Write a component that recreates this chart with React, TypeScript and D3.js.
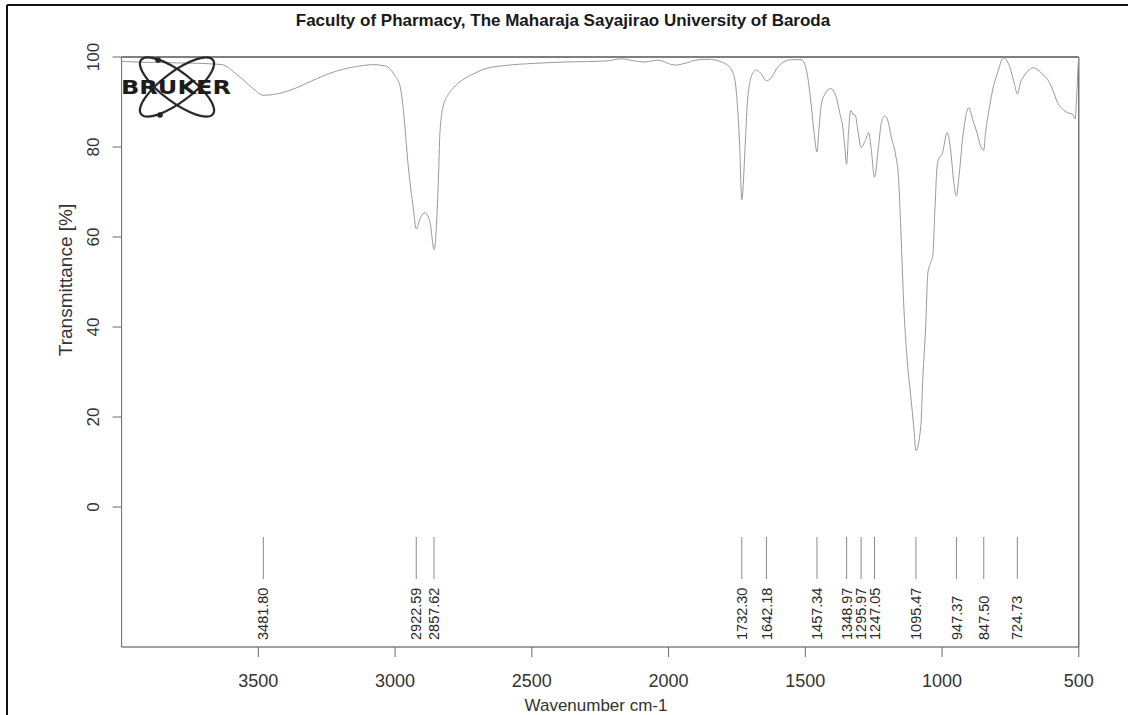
import React from "react";
import * as d3 from "d3";

// IR spectrum: wavenumber (cm-1) vs transmittance (%)
const wavenumbers: number[] = [
  4000, 3900, 3800, 3720, 3680, 3633, 3578, 3523, 3481.8, 3432, 3359, 3286, 3213, 3140, 3078,
  3035, 3000, 2982, 2970, 2952, 2933, 2922.6, 2909, 2891, 2872, 2857.6, 2842, 2836, 2824, 2805,
  2781, 2744, 2708, 2671, 2598, 2488, 2368, 2232, 2170, 2133, 2086, 2039, 1977, 1940, 1900,
  1856, 1807, 1776, 1758, 1749, 1740, 1732.3, 1720, 1712, 1703, 1691, 1679, 1661, 1642.2, 1624,
  1606, 1582, 1551, 1515, 1502, 1490, 1478, 1468, 1457.3, 1451, 1442, 1429, 1407, 1393, 1374,
  1362, 1356, 1349, 1342, 1334, 1326, 1317, 1307, 1296, 1281, 1268, 1259, 1247, 1232, 1222,
  1210, 1198, 1185, 1169, 1159, 1151, 1139, 1127, 1115, 1103, 1095.5, 1078, 1070, 1060, 1052,
  1042, 1034, 1026, 1018, 1010, 1000, 981, 969, 957, 947.4, 938, 924, 902, 888, 872,
  859, 847.5, 841, 828, 816, 797, 781, 776, 751, 735, 724.7, 712, 700, 685, 667,
  650, 632, 614, 596, 578, 559, 541, 523, 514, 508, 502, 500,
];

const transmittance: number[] = [
  99.0, 98.8, 98.7, 98.6, 98.5, 98.3, 96.1, 93.2, 91.5, 91.8, 93.2, 95.2, 96.9, 97.9, 98.3,
  98.0, 95.8, 93.6, 88.4, 75.8, 66.2, 61.8, 64.0, 65.4, 63.2, 57.2, 72.0, 83.2, 89.1, 91.7,
  93.5, 95.3, 96.4, 97.4, 98.1, 98.6, 98.9, 99.1, 99.6, 99.2, 98.9, 99.3, 98.2, 98.6, 99.3,
  99.5, 98.9, 97.7, 95.1, 89.9, 80.3, 68.3, 80.2, 89.8, 94.3, 96.5, 97.1, 96.2, 94.7, 95.4,
  97.3, 98.8, 99.4, 99.4, 98.4, 95.1, 89.1, 83.2, 78.9, 83.2, 89.2, 91.7, 93.0, 92.1, 87.6,
  83.9, 80.2, 76.2, 83.2, 88.1, 87.3, 87.0, 83.3, 79.9, 81.4, 83.2, 79.5, 73.3, 80.3, 85.4,
  86.9, 85.8, 82.0, 78.0, 73.0, 62.0, 43.5, 32.3, 25.0, 17.5, 12.5, 17.8, 29.0, 40.0, 52.0,
  54.3, 55.8, 66.2, 75.8, 77.7, 78.4, 83.2, 79.5, 72.1, 69.1, 73.5, 82.4, 88.7, 86.1, 83.1,
  80.2, 79.3, 83.2, 88.3, 92.4, 96.5, 99.4, 99.8, 97.6, 93.9, 91.8, 94.6, 95.8, 96.9, 97.6,
  97.2, 96.1, 95.0, 92.8, 89.9, 88.4, 87.6, 87.3, 86.2, 91.0, 98.5, 100.0,
];

// Picked peak positions (cm-1)
const peakPositions: number[] = [
  3481.8, 2922.59, 2857.62, 1732.3, 1642.18, 1457.34, 1348.97, 1295.97, 1247.05, 1095.47,
  947.37, 847.5, 724.73,
];

const xTicks: number[] = [3500, 3000, 2500, 2000, 1500, 1000, 500];
const yTicks: number[] = [0, 20, 40, 60, 80, 100];

const titleText = "Faculty of Pharmacy, The Maharaja Sayajirao University of Baroda";
const xLabel = "Wavenumber cm-1";
const yLabel = "Transmittance [%]";

const FONT = "'Liberation Sans', Arial, Helvetica, sans-serif";

function BrukerLogo({ cx, cy }: { cx: number; cy: number }) {
  const rx = 45;
  const ry = 15;
  return (
    <g>
      <ellipse cx={cx} cy={cy} rx={rx} ry={ry} fill="none" stroke="#2a2a2a" strokeWidth={2.2}
        transform={`rotate(37 ${cx} ${cy})`} />
      <ellipse cx={cx} cy={cy} rx={rx} ry={ry} fill="none" stroke="#2a2a2a" strokeWidth={2.2}
        transform={`rotate(-37 ${cx} ${cy})`} />
      <circle cx={cx - 19} cy={cy - 27} r={2.8} fill="#222" />
      <circle cx={cx - 17} cy={cy + 28} r={2.8} fill="#222" />
      <text x={cx - 56} y={cy + 7} fontFamily="'DejaVu Sans', sans-serif" fontWeight={900}
        fontSize={19} fill="#1c1c1c" textLength={110} lengthAdjust="spacingAndGlyphs">
        BRUKER
      </text>
    </g>
  );
}

export default function App() {
  const W = 1128;
  const H = 715;
  const left = 121.6;
  const right = 1078.8;
  const top = 57;
  const bottom = 647;

  const x = d3.scaleLinear().domain([4000, 500]).range([left, right]);
  const y = d3.scaleLinear().domain([-31.1, 100]).range([bottom, top]);

  const points: [number, number][] = wavenumbers.map((w, i) => [w, transmittance[i]]);
  const line = d3
    .line<[number, number]>()
    .x((d) => x(d[0]))
    .y((d) => y(d[1]))
    .curve(d3.curveMonotoneX);

  const axisColor = "#6a6a6a";

  return (
    <svg width={W} height={H} style={{ position: "absolute", left: 0, top: 0, background: "#fff" }}>
      <rect x={0} y={0} width={W} height={H} fill="#fff" />
      {/* outer page border */}
      <line x1={7} y1={5} x2={W} y2={5} stroke="#111" strokeWidth={2} />
      <line x1={7} y1={5} x2={7} y2={H} stroke="#111" strokeWidth={2} />

      {/* title */}
      <text x={563} y={26} textAnchor="middle" fontFamily={FONT} fontWeight="bold" fontSize={17} fill="#1a1a1a">
        {titleText}
      </text>

      {/* plot frame */}
      <line x1={left} y1={top} x2={right} y2={top} stroke="#555" strokeWidth={1.3} />
      <line x1={left} y1={top} x2={left} y2={bottom} stroke={axisColor} strokeWidth={1} />
      <line x1={right} y1={top} x2={right} y2={bottom} stroke="#555" strokeWidth={1.2} />
      <line x1={left} y1={bottom} x2={right} y2={bottom} stroke="#444" strokeWidth={1.2} />

      {/* y ticks */}
      {yTicks.map((t) => (
        <g key={`yt${t}`}>
          <line x1={left - 9} x2={left} y1={y(t)} y2={y(t)} stroke={axisColor} strokeWidth={1} />
          <text transform={`translate(99, ${y(t)}) rotate(-90)`} textAnchor="middle" fontFamily={FONT}
            fontSize={17} fill="#333">
            {t}
          </text>
        </g>
      ))}
      <text transform={`translate(72, 280) rotate(-90)`} textAnchor="middle" fontFamily={FONT}
        fontSize={19} fill="#333">
        {yLabel}
      </text>

      {/* x ticks */}
      {xTicks.map((t) => (
        <g key={`xt${t}`}>
          <line x1={x(t)} x2={x(t)} y1={bottom} y2={bottom + 10} stroke={axisColor} strokeWidth={1} />
          <text x={x(t)} y={687} textAnchor="middle" fontFamily={FONT} fontSize={18} fill="#333">
            {t}
          </text>
        </g>
      ))}
      <text x={596} y={711} textAnchor="middle" fontFamily={FONT} fontSize={17} fill="#333">
        {xLabel}
      </text>

      {/* peak markers */}
      {peakPositions.map((p) => (
        <g key={`pk${p}`}>
          <line x1={x(p)} x2={x(p)} y1={537} y2={579} stroke="#8a8a8a" strokeWidth={1} />
          <text transform={`translate(${x(p)}, 640) rotate(-90)`} dy="0.35em" textAnchor="start"
            fontFamily={FONT} fontSize={14.5} fill="#2a2a2a">
            {p.toFixed(2)}
          </text>
        </g>
      ))}

      {/* spectrum */}
      <path d={line(points) ?? ""} fill="none" stroke="#9a9a9a" strokeWidth={1} />

      <BrukerLogo cx={177} cy={87} />
    </svg>
  );
}
